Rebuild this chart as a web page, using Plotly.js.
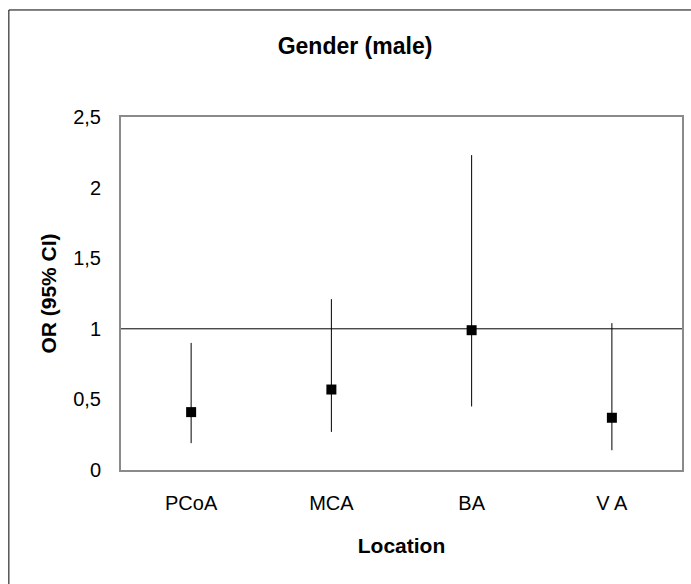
<!DOCTYPE html>
<html>
<head>
<meta charset="utf-8">
<script src="https://cdn.plot.ly/plotly-3.0.1.min.js"></script>
<style>html,body{margin:0;padding:0;background:#fff;overflow:hidden;}</style>
</head>
<body>
<div id="chart" style="width:691px;height:584px;"></div>
<script>
const categories = ["PCoA", "MCA", "BA", "V A"];
const orValues = [0.41, 0.57, 0.99, 0.37];
const ciLower = [0.19, 0.27, 0.45, 0.14];
const ciUpper = [0.90, 1.21, 2.23, 1.04];
const yTickVals = [0, 0.5, 1, 1.5, 2, 2.5];
const yTickText = ["0", "0,5", "1", "1,5", "2", "2,5"];
const referenceOR = 1;

const W = 691, H = 584;
const L = 120.7, R = 682, T = 116.7, B = 470.3;

const trace = {
  type: "scatter",
  mode: "markers",
  x: categories,
  y: orValues,
  marker: {symbol: "square", size: 10, color: "#000"},
  error_y: {
    type: "data",
    symmetric: false,
    array: orValues.map((v, i) => ciUpper[i] - v),
    arrayminus: orValues.map((v, i) => v - ciLower[i]),
    color: "#000",
    thickness: 1,
    width: 0
  },
  hoverinfo: "x+y",
  showlegend: false
};

const pw = R - L, ph = B - T;
const layout = {
  width: W, height: H,
  margin: {l: L, r: W - R, t: T, b: H - B, pad: 0},
  paper_bgcolor: "#fff",
  plot_bgcolor: "#fff",
  font: {family: "Liberation Sans, Arial, sans-serif", color: "#000", size: 20},
  title: {
    text: "<b>Gender (male)</b>",
    font: {size: 23, family: "Liberation Sans, Arial, sans-serif", color: "#000"},
    x: 355 / W, xref: "container", xanchor: "center",
    y: 1 - 46 / H, yref: "container", yanchor: "middle"
  },
  xaxis: {
    type: "category",
    range: [-0.5, 3.5],
    showgrid: false, zeroline: false,
    showline: true, mirror: true, linecolor: "#8a8a8a", linewidth: 2,
    ticks: "", ticklabelstandoff: 14,
    tickfont: {size: 20},
    title: {text: "<b>Location</b>", font: {size: 21}, standoff: 25}
  },
  yaxis: {
    range: [0, 2.5],
    tickvals: yTickVals, ticktext: yTickText,
    showgrid: false, zeroline: false,
    showline: true, mirror: true, linecolor: "#8a8a8a", linewidth: 2,
    ticks: "", ticklabelstandoff: 14,
    tickfont: {size: 20},
    title: {text: "<b>OR (95% CI)</b>", font: {size: 21}, standoff: 11}
  },
  shapes: [
    {type: "line", xref: "paper", yref: "y", x0: 0, x1: 1, y0: referenceOR, y1: referenceOR,
     line: {color: "#000", width: 1}},
    {type: "rect", xref: "paper", yref: "paper",
     x0: (8.5 - L) / pw, x1: (720 - L) / pw,
     y0: (B - 620) / ph, y1: (B - 9.5) / ph,
     line: {color: "#000", width: 1}, fillcolor: "rgba(0,0,0,0)", layer: "above"}
  ]
};

Plotly.newPlot("chart", [trace], layout, {displayModeBar: false, staticPlot: true});
</script>
</body>
</html>
